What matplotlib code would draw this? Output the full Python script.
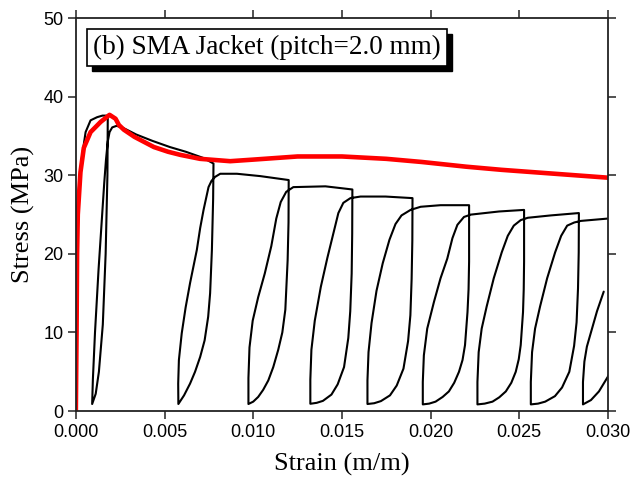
import matplotlib
matplotlib.use("Agg")
import matplotlib.pyplot as plt
from matplotlib import transforms
from matplotlib.patches import Rectangle

# cyclic test (black) - one continuous strain/stress path
black_strain = [
    # first loading
    0.0, 0.00003, 0.00006, 0.00012, 0.0002, 0.00036, 0.00055, 0.00083, 0.0012, 0.0015, 0.00177, 0.0018,
    # unload 1 / reload 1
    0.00178, 0.00168, 0.00152, 0.0013, 0.00112, 0.00092,
    0.00096, 0.00108, 0.00128, 0.00148, 0.0016, 0.0017, 0.0018, 0.0019, 0.00205, 0.0023, 0.0027,
    0.0034, 0.0043, 0.0053, 0.0062, 0.0072, 0.00776,
    # unload 2 / reload 2
    0.00774, 0.00767, 0.00757, 0.00746, 0.00726, 0.00701, 0.00672, 0.00644, 0.0061, 0.00578,
    0.00577, 0.00581, 0.00597, 0.00619, 0.00644, 0.00682, 0.00701, 0.0072, 0.00748, 0.00765,
    0.00785, 0.00814, 0.00908, 0.0104, 0.0120,
    # unload 3 / reload 3
    0.01199, 0.01194, 0.01181, 0.01164, 0.01141, 0.01113, 0.01085, 0.01056, 0.01028, 0.0100, 0.00973,
    0.00973, 0.00979, 0.00997, 0.01028, 0.01065, 0.01102, 0.0113, 0.01155, 0.01186, 0.01226,
    0.01407, 0.01559,
    # unload 4 / reload 4
    0.01558, 0.01555, 0.01547, 0.01536, 0.01512, 0.01476, 0.01441, 0.01393, 0.01358, 0.01322,
    0.01322, 0.01328, 0.01347, 0.01381, 0.01418, 0.01452, 0.0148, 0.01508, 0.01548, 0.01605,
    0.01746, 0.01898,
    # unload 5 / reload 5
    0.01897, 0.01893, 0.01886, 0.01873, 0.01847, 0.01809, 0.01771, 0.0172, 0.01682, 0.01644,
    0.01644, 0.0165, 0.01667, 0.01695, 0.0173, 0.01768, 0.01802, 0.01836, 0.01887, 0.01944,
    0.02056, 0.02217,
    # unload 6 / reload 6
    0.02217, 0.02214, 0.02208, 0.02194, 0.0218, 0.0216, 0.02133, 0.02103, 0.02068, 0.02028,
    0.01992, 0.01956,
    0.01956, 0.01962, 0.01981, 0.02019, 0.02056, 0.02094, 0.02123, 0.02151, 0.02188, 0.02226,
    0.02386, 0.02527,
    # unload 7 / reload 7
    0.02527, 0.02525, 0.02521, 0.02508, 0.02497, 0.0248, 0.02455, 0.02424, 0.02387, 0.02349,
    0.02305, 0.02264,
    0.02264, 0.02271, 0.02288, 0.02316, 0.02356, 0.02401, 0.02435, 0.02469, 0.02508, 0.02548,
    0.02678, 0.02836,
    # unload 8 / reload 8
    0.02835, 0.02831, 0.02823, 0.02809, 0.02782, 0.02741, 0.02701, 0.02646, 0.02606, 0.02565,
    0.02565, 0.02572, 0.02589, 0.02617, 0.02657, 0.02702, 0.02736, 0.0277, 0.0281, 0.02847,
    0.0300, 0.03119,
    # unload 9 / reload 9
    0.03116, 0.03107, 0.03085, 0.03051, 0.0300, 0.02949, 0.02904, 0.02859,
    0.02859, 0.02867, 0.02881, 0.02904, 0.02938, 0.02976,
]
black_stress = [
    0.0, 10.0, 20.0, 26.0, 29.5, 32.6, 35.5, 37.0, 37.4, 37.6, 37.6, 37.3,
    30.0, 20.0, 11.0, 5.0, 2.2, 0.9,
    4.0, 10.0, 18.0, 25.0, 29.0, 32.0, 34.3, 35.5, 36.1, 36.3, 36.0,
    35.2, 34.4, 33.6, 33.0, 32.2, 31.5,
    27.0, 20.5, 15.0, 12.0, 9.0, 6.9, 5.0, 3.5, 2.0, 0.9,
    3.5, 6.5, 9.9, 13.2, 16.3, 20.5, 23.3, 25.6, 28.5, 29.3,
    29.8, 30.2, 30.2, 29.9, 29.4,
    24.0, 19.2, 12.9, 10.0, 7.8, 5.6, 3.9, 2.7, 1.8, 1.2, 0.9,
    4.2, 8.1, 11.5, 14.5, 17.5, 21.0, 24.5, 26.6, 27.9, 28.5,
    28.6, 28.2,
    22.6, 17.5, 12.7, 9.3, 5.6, 3.4, 2.1, 1.3, 1.05, 0.93,
    4.0, 7.8, 11.5, 15.8, 19.5, 22.6, 25.2, 26.5, 27.1, 27.3,
    27.3, 27.1,
    21.7, 16.8, 12.2, 8.9, 5.4, 3.25, 2.0, 1.27, 1.0, 0.9,
    3.9, 7.5, 11.2, 15.3, 18.8, 21.8, 23.8, 24.9, 25.6, 26.0,
    26.2, 26.2,
    19.0, 15.5, 12.6, 8.4, 6.5, 5.0, 3.6, 2.5, 1.8, 1.2,
    0.95, 0.85,
    3.7, 7.1, 10.5, 13.9, 16.9, 19.4, 22.0, 23.7, 24.7, 25.0,
    25.4, 25.6,
    19.0, 15.5, 12.6, 8.4, 6.6, 5.0, 3.6, 2.5, 1.75, 1.2,
    0.95, 0.85,
    3.7, 7.5, 10.5, 13.3, 16.9, 20.2, 22.3, 23.6, 24.3, 24.6,
    24.9, 25.2,
    20.2, 15.6, 11.3, 8.3, 5.0, 3.0, 1.9, 1.2, 0.95, 0.85,
    3.7, 7.5, 10.5, 13.3, 16.9, 20.2, 22.3, 23.6, 24.0, 24.2,
    24.5, 24.6,
    19.0, 14.0, 10.0, 7.0, 4.4, 2.5, 1.4, 0.85,
    3.7, 6.3, 8.2, 10.0, 12.7, 15.2,
]

# envelope (red)
red_strain = [
    0.0, 0.00004, 0.00007, 0.00011, 0.00026, 0.00045, 0.00083, 0.0014, 0.0019, 0.00224,
    0.00243, 0.00271, 0.0033, 0.0044, 0.0052, 0.0059, 0.0070, 0.0087, 0.0100, 0.0125,
    0.0150, 0.0175, 0.0195, 0.0220, 0.0240, 0.0270, 0.0300,
]
red_stress = [
    0.0, 10.0, 20.0, 25.0, 30.4, 33.5, 35.5, 36.8, 37.7, 37.2,
    36.4, 35.8, 34.9, 33.6, 33.0, 32.6, 32.1, 31.8, 32.0, 32.4,
    32.4, 32.1, 31.7, 31.1, 30.7, 30.2, 29.7,
]

x_ticks = [0.000, 0.005, 0.010, 0.015, 0.020, 0.025, 0.030]
x_tick_labels = ["0.000", "0.005", "0.010", "0.015", "0.020", "0.025", "0.030"]
y_ticks = [0, 10, 20, 30, 40, 50]
title = "(b) SMA Jacket (pitch=2.0 mm)"

serif = ["Liberation Serif", "DejaVu Serif"]
sans = ["Liberation Sans", "DejaVu Sans"]

fig = plt.figure(figsize=(6.32, 4.78), dpi=100)
ax = fig.add_axes([0.120, 0.140, 0.842, 0.822])

ax.plot(black_strain, black_stress, color="black", lw=1.5,
        solid_joinstyle="round", solid_capstyle="round")
ax.plot(red_strain, red_stress, color="#ff0000", lw=3.3,
        solid_joinstyle="round", solid_capstyle="round")

ax.set_xlim(0, 0.030)
ax.set_ylim(0, 50)
ax.set_xticks(x_ticks)
ax.set_xticklabels(x_tick_labels)
ax.set_yticks(y_ticks)
ax.tick_params(direction="out", length=6, width=1.1, colors="#222222",
               labelsize=13, top=True, right=True, pad=3)
for lab in ax.get_xticklabels() + ax.get_yticklabels():
    lab.set_family(sans)
    lab.set_color("black")
for sp in ax.spines.values():
    sp.set_linewidth(1.3)
    sp.set_color("#222222")

ax.set_xlabel("Strain (m/m)", family=serif, fontsize=19, labelpad=9)
ax.set_ylabel("Stress (MPa)", family=serif, fontsize=19, labelpad=6)

# boxed title, shadow drawn as a patch behind the box
box = ax.text(0.0325, 0.926, title, transform=ax.transAxes, family=serif, fontsize=19.5,
              ha="left", va="center", color="black", zorder=6,
              bbox=dict(boxstyle="square,pad=0.22", fc="white", ec="black", lw=1.2))
fig.canvas.draw()
bb = box.get_bbox_patch().get_window_extent()
ax.add_patch(Rectangle((bb.x0 + 5, bb.y0 - 5), bb.width, bb.height,
                       transform=transforms.IdentityTransform(),
                       fc="black", ec="black", zorder=5, clip_on=False))

fig.savefig("out.png", dpi=100)
